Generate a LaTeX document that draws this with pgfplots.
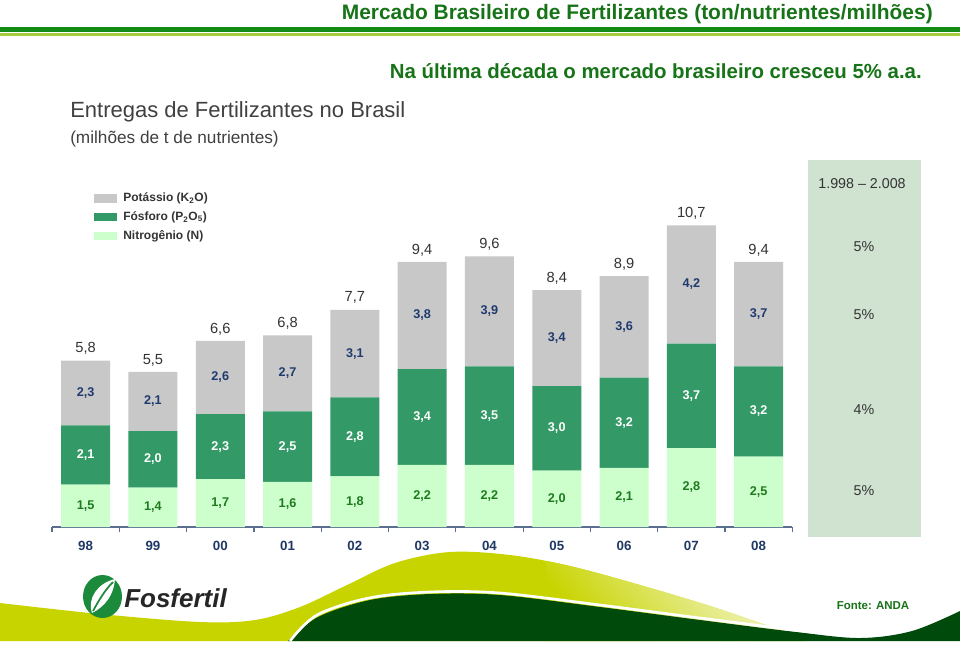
\documentclass[border=0pt]{standalone}
\usepackage{fontspec}
\setmainfont{Liberation Sans}
\usepackage{pgfplots}
\pgfplotsset{compat=1.18}
\usepackage{pgfplotstable}
\definecolor{cK}{HTML}{C8C8C8}
\definecolor{cP}{HTML}{339966}
\definecolor{cN}{HTML}{CCFFCC}
\definecolor{cKlab}{HTML}{1F3A6E}
\definecolor{cNlab}{HTML}{1E7A1E}
\definecolor{cTitle}{HTML}{177317}
\definecolor{cLine}{HTML}{138A13}
\definecolor{cLine2}{HTML}{A4CC3C}
\definecolor{cAxis}{HTML}{5A6F8F}
\definecolor{cNavy}{HTML}{1F3864}
\definecolor{cPanel}{HTML}{D0E3D1}
\definecolor{cYel}{HTML}{C8D400}
\definecolor{cDark}{HTML}{004A0C}
\definecolor{cLogo}{HTML}{1B8A3A}
\definecolor{cTxt}{HTML}{333333}
\definecolor{cGrey}{HTML}{404040}

\pgfplotsset{myleg/.style={legend image code/.code={\fill[##1] (0pt,-3.2pt) rectangle (17pt,3.2pt);}}}

\pgfplotstableread{
x n p k t
0 1.5 2.1 2.3 5.8
1 1.4 2.0 2.1 5.5
2 1.7 2.3 2.6 6.6
3 1.6 2.5 2.7 6.8
4 1.8 2.8 3.1 7.7
5 2.2 3.4 3.8 9.4
6 2.2 3.5 3.9 9.6
7 2.0 3.0 3.4 8.4
8 2.1 3.2 3.6 8.9
9 2.8 3.7 4.2 10.7
10 2.5 3.2 3.7 9.4
}\fert

\begin{document}
\begin{tikzpicture}[x=0.75pt,y=-0.75pt]
\path[use as bounding box] (0,0) rectangle (960,644);
\coordinate (axo) at (52,527);

% decorative waves
\def\yelpath{plot[smooth, tension=0.55] coordinates {(0,603) (100,614) (200,622) (255,620) (300,607) (345,586) (395,563) (450,552) (510,555) (570,566) (640,585) (710,606) (760,623) (800,636)} -- (805,641) -- (0,641) -- cycle}
\fill[cYel] \yelpath;
\begin{scope}
\clip \yelpath;
\shade[bottom color=cYel, top color=white, shading angle=-50] (546,540) rectangle (830,645);
\end{scope}
\fill[cDark] plot[smooth, tension=0.55] coordinates {(288,641) (318,617) (370,600) (430,594) (500,595) (600,607) (700,620) (796,632) (860,638) (912,631) (960,611)} -- (960,641) -- cycle;
\draw[white, line width=2pt] plot[smooth, tension=0.55] coordinates {(290,641) (317,615) (369,598) (430,592) (500,593) (600,605) (700,618) (796,630) (860,636)};

% top lines
\fill[cLine] (0,27) rectangle (960,32);
\fill[cLine2] (0,33) rectangle (960,35.5);

% titles
\node[anchor=base east, inner sep=0, text=cTitle, font=\bfseries\fontsize{15.7}{18}\selectfont] at (933,19) {Mercado Brasileiro de Fertilizantes (ton/nutrientes/milhões)};
\node[anchor=base east, inner sep=0, text=cTitle, font=\bfseries\fontsize{15.3}{18}\selectfont] at (922,78) {Na última década o mercado brasileiro cresceu 5\% a.a.};
\node[anchor=base west, inner sep=0, text=cGrey, font=\fontsize{16.5}{19}\selectfont] at (70,117) {Entregas de Fertilizantes no Brasil};
\node[anchor=base west, inner sep=0, text=cGrey, font=\fontsize{12.9}{15}\selectfont] at (70,143) {(milhões de t de nutrientes)};

% growth panel
\fill[cPanel] (808,160) rectangle (921,537);
\begin{scope}[every node/.style={text=cTxt, font=\fontsize{10.7}{13}\selectfont, inner sep=0}]
\node at (862,184) {1.998 – 2.008};
\node at (864,247) {5\%};
\node at (864,315) {5\%};
\node at (864,410) {4\%};
\node at (864,491) {5\%};
\end{scope}

% bars
\begin{axis}[
  at={(axo)}, anchor=south west,
  x=50.475pt, y=21.15pt,
  xmin=-0.5, xmax=10.5, ymin=0, ymax=12,
  ybar stacked, bar width=36.75pt,
  axis y line=none, axis x line*=bottom,
  x axis line style={cAxis, line width=1.1pt},
  xtick={0,...,10},
  xticklabels={98,99,00,01,02,03,04,05,06,07,08},
  minor xtick={-0.5,0.5,...,10.5},
  major tick length=0pt, minor tick length=3.5pt, tick align=outside,
  minor tick style={cAxis, line width=0.9pt},
  xticklabel style={font=\bfseries\fontsize{10}{12}\selectfont, text=cNavy, yshift=-7pt},
  clip=false,
  reverse legend,
  legend cell align=left,
  legend style={at={(axis cs:0.12,11.95)}, anchor=north west, draw=none, fill=none,
    inner sep=0pt, font=\bfseries\fontsize{9}{11}\selectfont, text=cTxt, row sep=2pt,
    /tikz/every odd column/.append style={column sep=3pt}},
]
\addplot[fill=cN, draw=none, myleg] table[x=x,y=n]{\fert};
\addlegendentry{Nitrogênio (N)}
\addplot[fill=cP, draw=none, myleg] table[x=x,y=p]{\fert};
\addlegendentry{Fósforo (P\textsubscript{2}O\textsubscript{5})}
\addplot[fill=cK, draw=none, myleg] table[x=x,y=k]{\fert};
\addlegendentry{Potássio (K\textsubscript{2}O)}
\end{axis}

% value labels
\begin{axis}[
  at={(axo)}, anchor=south west,
  x=50.475pt, y=21.15pt,
  xmin=-0.5, xmax=10.5, ymin=0, ymax=12,
  hide axis, clip=false,
  /pgf/number format/fixed, /pgf/number format/fixed zerofill,
  /pgf/number format/precision=1, /pgf/number format/use comma,
  /pgf/number format/assume math mode=true,
]
\addplot[draw=none, mark=none, nodes near coords, point meta=\thisrow{n},
  every node near coord/.append style={anchor=center, text=cNlab, font=\bfseries\fontsize{9.5}{11}\selectfont}]
  table[x=x, y expr=\thisrow{n}/2]{\fert};
\addplot[draw=none, mark=none, nodes near coords, point meta=\thisrow{p},
  every node near coord/.append style={anchor=center, text=white, font=\bfseries\fontsize{9.5}{11}\selectfont}]
  table[x=x, y expr=\thisrow{n}+\thisrow{p}/2]{\fert};
\addplot[draw=none, mark=none, nodes near coords, point meta=\thisrow{k},
  every node near coord/.append style={anchor=center, text=cKlab, font=\bfseries\fontsize{9.5}{11}\selectfont}]
  table[x=x, y expr=\thisrow{n}+\thisrow{p}+\thisrow{k}/2]{\fert};
\addplot[draw=none, mark=none, nodes near coords, point meta=\thisrow{t},
  every node near coord/.append style={anchor=center, yshift=9pt, text=cTxt, font=\fontsize{11}{13}\selectfont}]
  table[x=x, y expr=\thisrow{n}+\thisrow{p}+\thisrow{k}]{\fert};
\end{axis}

% logo
\fill[cLogo] (102.5,596.5) ellipse [x radius=19.5, y radius=21.5];
\fill[white] (92,613) .. controls (87,598) and (98,583) .. (115,579) .. controls (114,594) and (106,606) .. (92,613) -- cycle;
\draw[cLogo, line width=1.3pt] (93,611) .. controls (99,600) and (105,590) .. (113,582);
\node[anchor=base west, inner sep=0, font=\bfseries\itshape\fontsize{19.5}{22}\selectfont, text=black!85] at (124,607) {Fosfertil};
\node[inner sep=0, font=\bfseries\fontsize{8.6}{10}\selectfont, text=cTitle] at (873,606) {Fonte: ANDA};
\end{tikzpicture}
\end{document}
